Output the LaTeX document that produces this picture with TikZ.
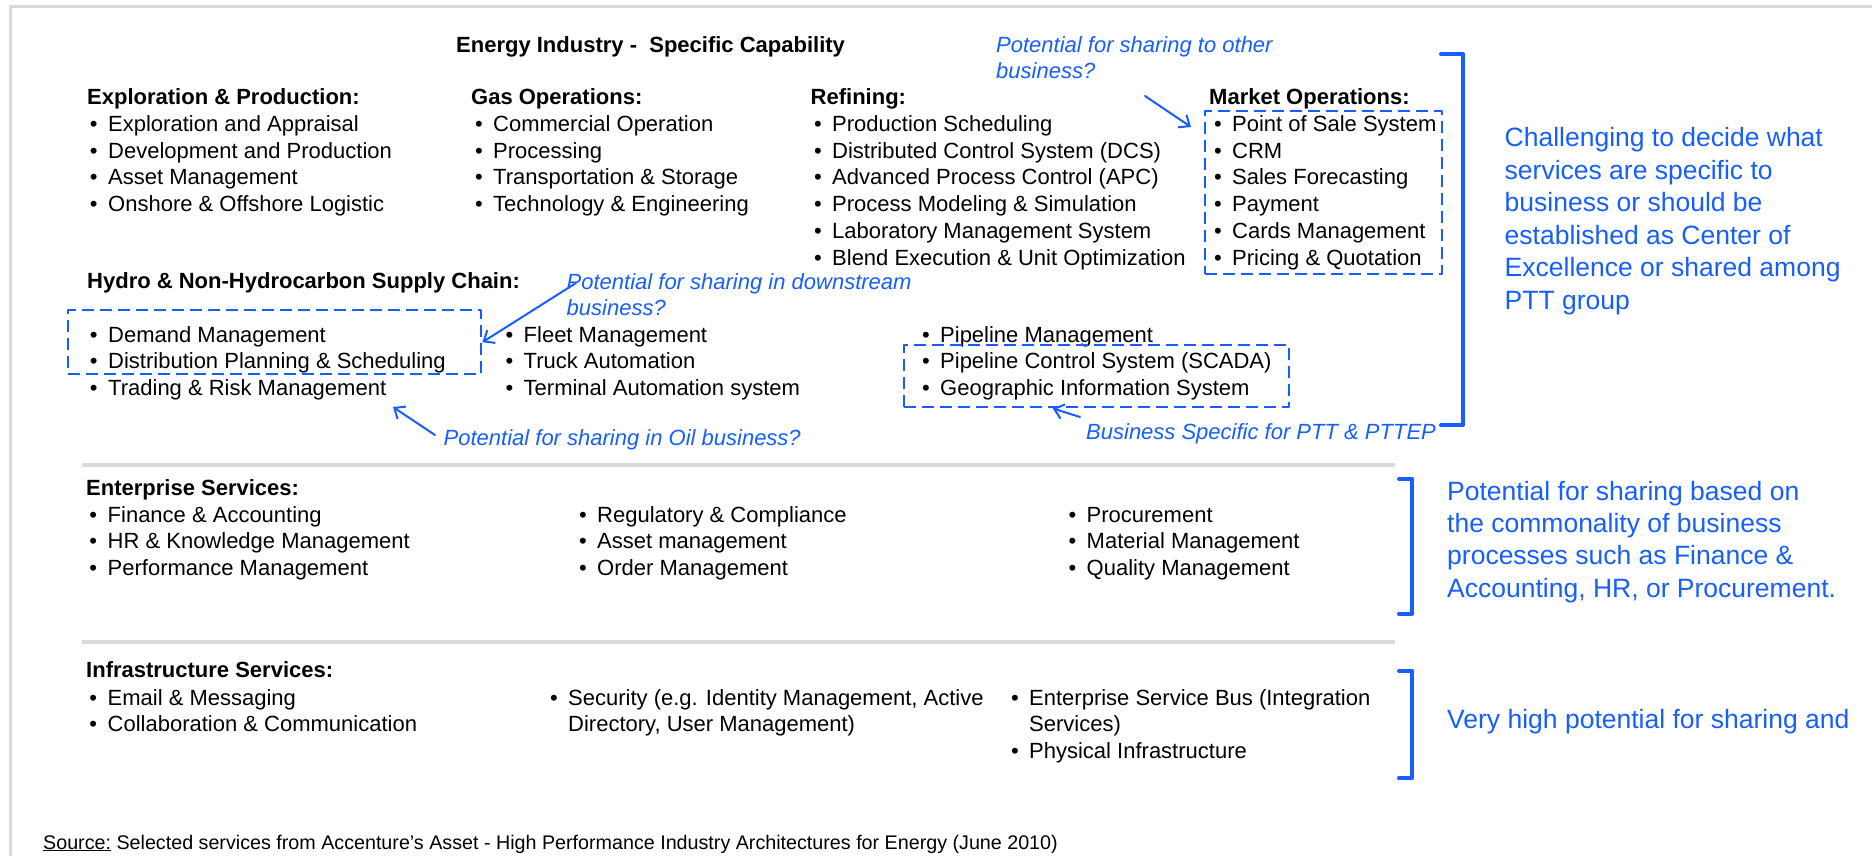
\documentclass[tikz,border=0pt]{standalone}
\usepackage{fontspec}
\setmainfont{Liberation Sans}
\usetikzlibrary{arrows.meta}
\usetikzlibrary{positioning}

\newcommand\itembul{\llap{\textbullet\hspace{10.5pt}}}

\begin{document}
\begin{tikzpicture}[x=1pt, y=-1pt, >={Straight Barb[length=9pt,width=15pt]},
		line cap=round, line join=round]
		
		% Colors
		\definecolor{ShareBlue}{RGB}{22,94,255}
		\definecolor{RuleGray}{RGB}{218,218,218}
		
		% Styles
		\tikzset{
			head/.style={anchor=base west, inner sep=0pt, font=\fontsize{22}{26}\selectfont\bfseries},
			itm/.style={anchor=base west, inner sep=0pt, font=\fontsize{22}{26}\selectfont},
			note/.style={anchor=base west, inner sep=0pt, text=ShareBlue,
				font=\fontsize{22}{26}\selectfont\itshape},
			side/.style={anchor=base west, inner sep=0pt, text=ShareBlue,
				font=\fontsize{26.5}{32}\selectfont},
			sharebox/.style={draw=ShareBlue, line width=2.4pt, dash pattern=on 12pt off 6pt,
				line cap=butt, anchor=north west, inner sep=0pt},
			brack/.style={draw=ShareBlue, line width=4pt},
			sep/.style={draw=RuleGray, line width=3.5pt, line cap=butt},
			arrNote/.style={->, draw=ShareBlue, line width=2pt}
		}
		
		\useasboundingbox (0,0) rectangle (1872,856);
		\draw[sep, line width=3pt] (10,856) -- (10,7) -- (1872,7);
		
		% Energy industry block
		\node[head] (title) at (456,53) {Energy Industry -~ Specific Capability};
		
		\node[head] (ephead) at (87,105) {Exploration \& Production:};
		\foreach \t [count=\i from 0] in {Exploration and Appraisal, Development and Production,
			Asset Management, Onshore \& Offshore Logistic}
		\node[itm] (ep\i) at (108,131.5+26.7*\i) {\itembul\t};
		
		\node[head] (gohead) at (471,105) {Gas Operations:};
		\foreach \t [count=\i from 0] in {Commercial Operation, Processing,
			Transportation \& Storage, Technology \& Engineering}
		\node[itm] (go\i) at (493,131.5+26.7*\i) {\itembul\t};
		
		\node[head] (rfhead) at (810.5,105) {Refining:};
		\foreach \t [count=\i from 0] in {Production Scheduling, Distributed Control System (DCS),
			Advanced Process Control (APC), Process Modeling \& Simulation,
			Laboratory Management System, Blend Execution \& Unit Optimization}
		\node[itm] (rf\i) at (832,131.5+26.7*\i) {\itembul\t};
		
		\node[head] (mohead) at (1209,105) {Market Operations:};
		\foreach \t [count=\i from 0] in {Point of Sale System, CRM, Sales Forecasting,
			Payment, Cards Management, Pricing \& Quotation}
		\node[itm] (mo\i) at (1232,131.5+26.7*\i) {\itembul\t};
		
		\node[head] (hyhead) at (87,288) {Hydro \& Non-Hydrocarbon Supply Chain:};
		\foreach \t [count=\i from 0] in {Demand Management,
			Distribution Planning \& Scheduling, Trading \& Risk Management}
		\node[itm] (hy\i) at (108,342+26.5*\i) {\itembul\t};
		\foreach \t [count=\i from 0] in {Fleet Management, Truck Automation,
			Terminal Automation system}
		\node[itm] (fl\i) at (523.5,342+26.5*\i) {\itembul\t};
		\foreach \t [count=\i from 0] in {Pipeline Management,
			Pipeline Control System (SCADA), Geographic Information System}
		\node[itm] (pl\i) at (940,342+26.5*\i) {\itembul\t};
		
		% Dashed groups
		\node[sharebox, minimum width=237pt, minimum height=163pt] (mobox) at (1204,110) {};
		\node[sharebox, minimum width=413pt, minimum height=64pt] (hybox) at (67,309) {};
		\node[sharebox, minimum width=385pt, minimum height=62pt] (plbox) at (903,344) {};
		
		% Notes
		\node[note] (otherA) at (996,53) {Potential for sharing to other};
		\node[note] (otherB) at (996,79) {business?};
		\node[note] (dsA) at (566.5,289) {Potential for sharing in downstream};
		\node[note] (dsB) at (566.5,315) {business?};
		\node[note] (oil) at (443.5,445) {Potential for sharing in Oil business?};
		\node[note] (biz) at (1086,439) {Business Specific for PTT \& PTTEP};
		
		\coordinate (otherTail) at (1145,96);
		\coordinate (otherTip) at (1191,127);
		\coordinate (dsTail) at (576,283);
		\coordinate (oilTail) at (435,435);
		\coordinate (oilTip) at (393,407);
		\coordinate (bizTail) at (1080,417);
		
		\draw[arrNote] (otherTail) -- (otherTip);
		\draw[arrNote] (dsTail) -- (hybox.east);
		\draw[arrNote] (oilTail) -- (oilTip);
		\draw[arrNote] (bizTail) -- ([xshift=-44pt]plbox.south);
		
		% Separators
		\draw[sep] (82,465) -- (1395,465);
		\draw[sep] (82,642) -- (1395,642);
		
		% Enterprise services
		\node[head] (enhead) at (86,495) {Enterprise Services:};
		\foreach \t [count=\i from 0] in {Finance \& Accounting, HR \& Knowledge Management,
			Performance Management}
		\node[itm] (en\i) at (107.5,522+26.5*\i) {\itembul\t};
		\foreach \t [count=\i from 0] in {Regulatory \& Compliance, Asset management,
			Order Management}
		\node[itm] (rg\i) at (597,522+26.5*\i) {\itembul\t};
		\foreach \t [count=\i from 0] in {Procurement, Material Management,
			Quality Management}
		\node[itm] (pc\i) at (1086.5,522+26.5*\i) {\itembul\t};
		
		% Infrastructure services
		\node[head] (inhead) at (86,677) {Infrastructure Services:};
		\node[itm] (em) at (107.5,705) {\itembul Email \& Messaging};
		\node[itm] (co) at (107.5,731.5) {\itembul Collaboration \& Communication};
		\node[itm] (secA) at (568,705) {\itembul Security (e.g. Identity Management, Active};
		\node[itm] (secB) at (568,731.5) {Directory, User Management)};
		\node[itm] (esbA) at (1029,705) {\itembul Enterprise Service Bus (Integration};
		\node[itm] (esbB) at (1029,731.5) {Services)};
		\node[itm] (phy) at (1029,758) {\itembul Physical Infrastructure};
		
		% Brackets and side comments
		\draw[brack] (1441,54) -- (1463,54) -- (1463,425) -- (1441,425);
		\draw[brack] (1399,479) -- (1412,479) -- (1412,614) -- (1399,614);
		\draw[brack] (1399,671) -- (1412,671) -- (1412,778) -- (1399,778);
		
		\foreach \t [count=\i from 0] in {Challenging to decide what, services are specific to,
			business or should be, established as Center of, Excellence or shared among, PTT group}
		\node[side] (ch\i) at (1504.5,147+32.4*\i) {\t};
		\foreach \t [count=\i from 0] in {Potential for sharing based on, the commonality of business,
			processes such as Finance \&, {Accounting, HR, or Procurement.}}
		\node[side] (ps\i) at (1447,500+32.4*\i) {\t};
		\node[side] (vh) at (1447,728) {Very high potential for sharing and};
		
		% Source
		\node[itm, font=\fontsize{19.7}{23}\selectfont] (src) at (43,849)
		{\underline{Source:} Selected services from Accenture’s Asset - High Performance Industry Architectures for Energy (June 2010)};
		
	\end{tikzpicture}
\end{document}
